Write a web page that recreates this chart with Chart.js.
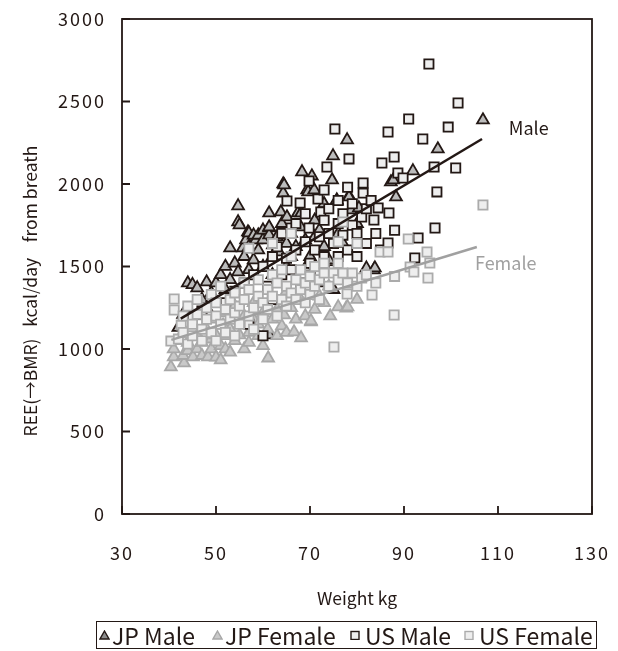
<!DOCTYPE html>
<html>
<head>
<meta charset="utf-8">
<script src="https://cdn.jsdelivr.net/npm/chart.js@4"></script>
<style>
    body { margin: 0; background: #fff; }
    #wrap { position: relative; width: 618px; height: 651px; }
    #legenda {
        position: absolute; left: 96px; top: 621px; width: 501px; height: 28px;
        box-sizing: border-box; border: 1.5px solid #231815;
        font: 23px "Noto Sans CJK JP", "Noto Sans", sans-serif; color: #231815;
    }
    #legenda span { position: absolute; top: 0; height: 25px; display: flex; align-items: center; white-space: nowrap; }
    #legenda svg { margin-right: 2px; }
</style>
</head>
<body>
<div id="wrap">
    <canvas id="grafico" width="618" height="651"></canvas>
    <div id="legenda">
        <span style="left:2px"><svg width="11" height="10"><polygon points="5.5,1 10,9 1,9" fill="#8c8c8c" stroke="#231815" stroke-width="1.4"/></svg>JP Male</span>
        <span style="left:115px"><svg width="11" height="10"><polygon points="5.5,1 10,9 1,9" fill="#c9c9c9" stroke="#a8a8a8" stroke-width="1.4"/></svg>JP Female</span>
        <span style="left:252px"><svg width="14" height="10"><rect x="2" y="1.5" width="8" height="8" fill="#eeeeee" stroke="#231815" stroke-width="1.4"/></svg> US Male</span>
        <span style="left:366px"><svg width="14" height="10"><rect x="2" y="1.5" width="8" height="8" fill="#eeeeee" stroke="#ababab" stroke-width="1.4"/></svg> US Female</span>
    </div>
</div>
<script>
// pontos [peso kg, kcal/dia]
const jpMale = [[42,1130],[43,1210],[44,1400],[45,1390],[46,1370],[47,1300],[48,1406],[48,1250],[49,1340],[50,1400],
    [50,1280],[51,1450],[52,1500],[52,1360],[53,1612],[53,1420],[54.7,1867],[54.7,1770],[54,1520],[55,1752],
    [55.7,1612],[54.7,1467],[56.8,1709],[56.4,1661],[56,1560],[57,1703],[57,1620],[57,1480],[58.5,1661],[58,1690],
    [58,1540],[59,1600],[59,1690],[60,1661],[60,1720],[60,1500],[61.3,1733],[61.3,1691],[61.3,1824],[61.3,1739],
    [61.3,1085],[62.1,1630],[62,1560],[62,1450],[63.4,1588],[63.8,1830],[63,1680],[64.3,2000],[64.3,1945],[64.5,1994],
    [64,1760],[65.1,1800],[65,1640],[65,1500],[66,1700],[66,1560],[67.4,1824],[67,1620],[68.3,2073],[68.1,1824],
    [68,1740],[69.4,1964],[69,1660],[69,1490],[70.4,2048],[69.6,1952],[70.9,1964],[70,1560],[71,1780],[71,1680],
    [72,1720],[72,1400],[73,1880],[73,1620],[74.7,2024],[74,1540],[74.9,2170],[75.7,1897],[75.7,1903],[75,1360],
    [76,1700],[77,1640],[77.9,2267],[78.3,1927],[78.3,1921],[78.7,1842],[80.4,1855],[80,1760],[82,1490],[83.6,1479],
    [83.8,1491],[87.2,2012],[87.7,2024],[88.3,1921],[91.9,2079],[97.2,2212],[106.8,2388]];

const jpFemale = [[40.4,891],[41,952],[41,1000],[43.2,915],[42,1050],[43,960],[43,1100],[44,990],[44,1040],[45.1,952],
    [45,1150],[46,1000],[46,1080],[47,960],[47,1200],[47,1040],[48.3,952],[48,1120],[49,1000],[49,1060],
    [50,1085],[50,950],[50,1180],[51,933],[51.5,1145],[51,1020],[52,1000],[52,1220],[52,1080],[53,1120],
    [53,980],[54,1050],[54,1260],[55,1085],[55,1150],[56,1000],[56,1200],[57,1100],[57,1040],[58,1180],
    [58,1280],[59,1080],[59,1150],[60,1220],[60,1020],[61.1,945],[61,1120],[62,1300],[62,1180],[63,1080],
    [63,1240],[64,1140],[64.5,1206],[65,1350],[65,1100],[66.6,1103],[66,1250],[67,1180],[68.1,1067],[68,1300],
    [69,1200],[70.2,1164],[70.2,1170],[71,1240],[72,1320],[73,1280],[74.3,1200],[74,1380],[76,1255],[77.7,1248],
    [78,1255],[80,1300]];

const usMale = [[45,1200],[47,1212],[47,1230],[52,1280],[54,1350],[56,1400],[57,1150],[58,1450],[60,1080],[60,1500],
    [61,1380],[62,1560],[62,1300],[63,1620],[64,1450],[64,1700],[65.1,1897],[65,1550],[66,1733],[66,1480],
    [67,1600],[67,1760],[67.9,1885],[68,1400],[69,1650],[69,1820],[69.8,2018],[69.8,1733],[70,1520],[71.7,1909],
    [71,1600],[72.3,1830],[72,1680],[72,1450],[73,1964],[73,1780],[73,1560],[73.6,2103],[74,1850],[74,1700],
    [75.3,2333],[75,1640],[75,1480],[76,1900],[76,1760],[76,1560],[77,1820],[77,1690],[78.3,2152],[78,1980],
    [78,1600],[79,1750],[79,1880],[80,1700],[80,1560],[81.3,2006],[81.3,1945],[81,1800],[82,1850],[82,1640],
    [83.6,1782],[83,1900],[84.5,1855],[84,1700],[85.3,2127],[85,1600],[86.6,2315],[86.6,1642],[86.8,1824],[87.9,2164],
    [88,1720],[88.7,2067],[89.8,2036],[91,2394],[92.3,1552],[93,1673],[94,2273],[95.3,2727],[96.4,2103],[97,1952],
    [96.6,1733],[99.4,2345],[101,2097],[101.5,2491]];

const usFemale = [[40.4,1048],[41.1,1303],[41.1,1236],[42.6,1145],[42,1060],[43,1200],[43,1100],[44,1030],[44,1260],[45,1150],
    [45,1080],[46,1210],[46,1300],[47,1120],[47,1050],[48,1250],[48,1180],[49,1330],[49,1100],[50,1200],
    [50,1280],[50,1050],[51,1150],[51,1380],[52,1240],[52,1100],[53,1300],[53,1180],[54,1340],[54,1220],
    [54,1080],[55,1260],[55,1150],[56,1400],[56,1300],[57,1200],[57,1360],[57,1610],[58,1250],[58,1120],
    [59,1320],[59,1420],[60,1180],[60,1280],[61,1360],[61,1240],[62,1450],[62,1320],[62,1640],[63,1200],
    [63,1400],[64,1300],[64,1480],[65,1260],[65,1380],[66,1340],[66,1560],[66,1700],[67,1300],[67,1420],
    [68,1360],[68,1480],[69,1280],[69,1400],[70,1440],[70,1330],[71,1500],[71,1380],[72,1420],[72,1300],
    [73,1460],[73,1520],[74,1380],[75.1,1012],[75,1460],[76,1420],[76,1520],[76,1650],[77,1770],[77.9,1333],
    [77,1460],[78,1400],[79,1460],[80,1380],[80,1640],[81,1430],[82,1450],[83.2,1327],[84,1400],[84.9,1588],
    [86.6,1588],[87.9,1206],[88,1440],[90.9,1667],[91.3,1497],[92.1,1467],[94.9,1588],[95.5,1521],[95.1,1430],[106.8,1873]];

// retas de regressão
const linhaMale = [[42.5,1184],[106.6,2273]];
const linhaFemale = [[40.5,1055],[105.5,1618]];

const ticksX = [30, 50, 70, 90, 110, 130];
const ticksY = [0, 500, 1000, 1500, 2000, 2500, 3000];

const escuro = '#231815';
const fonte = '"Noto Sans CJK JP", "Noto Sans", sans-serif';

function pontos(lista) {
    return lista.map(p => ({ x: p[0], y: p[1] }));
}

const moldura = {
    id: 'moldura',
    beforeDraw(chart) {
        chart.ctx.letterSpacing = '2px';
    },
    afterDraw(chart) {
        const ctx = chart.ctx;
        const area = chart.chartArea;
        const sx = chart.scales.x;
        const sy = chart.scales.y;
        ctx.save();
        ctx.letterSpacing = '0px';
        ctx.strokeStyle = escuro;
        ctx.lineWidth = 1.8;
        ctx.strokeRect(area.left, area.top, area.right - area.left, area.bottom - area.top);
        ctx.beginPath();
        ticksY.forEach(v => {
            const y = sy.getPixelForValue(v);
            ctx.moveTo(area.left, y);
            ctx.lineTo(area.left + 8, y);
        });
        ticksX.forEach(v => {
            const x = sx.getPixelForValue(v);
            ctx.moveTo(x, area.bottom);
            ctx.lineTo(x, area.bottom - 8);
        });
        ctx.stroke();

        ctx.fillStyle = escuro;
        ctx.font = '17.5px ' + fonte;
        ctx.textAlign = 'center';
        ctx.textBaseline = 'middle';
        ctx.fillText('Weight kg', 357, 598);
        ctx.translate(30, 291);
        ctx.rotate(-Math.PI / 2);
        ctx.fillText('REE(→BMR)   kcal/day    from breath', 0, 0);
        ctx.restore();

        ctx.save();
        ctx.letterSpacing = '0px';
        ctx.font = '18px ' + fonte;
        ctx.textBaseline = 'middle';
        ctx.fillStyle = escuro;
        ctx.fillText('Male', sx.getPixelForValue(112.3), sy.getPixelForValue(2339));
        ctx.fillStyle = '#a0a0a0';
        ctx.fillText('Female', sx.getPixelForValue(105.1), sy.getPixelForValue(1521));
        ctx.restore();
    }
};

new Chart(document.getElementById('grafico'), {
    type: 'scatter',
    data: {
        datasets: [
            {
                label: 'Male line', data: pontos(linhaMale), showLine: true, pointRadius: 0,
                borderColor: escuro, borderWidth: 2.5, order: 0
            },
            {
                label: 'Female line', data: pontos(linhaFemale), showLine: true, pointRadius: 0,
                borderColor: '#a0a0a0', borderWidth: 2.5, order: 0
            },
            {
                label: 'US Female', data: pontos(usFemale), pointStyle: 'rect', pointRadius: 6.5,
                backgroundColor: '#eeeeee', borderColor: '#ababab', borderWidth: 1.8, order: 1
            },
            {
                label: 'US Male', data: pontos(usMale), pointStyle: 'rect', pointRadius: 6.5,
                backgroundColor: '#eeeeee', borderColor: escuro, borderWidth: 1.8, order: 2
            },
            {
                label: 'JP Female', data: pontos(jpFemale), pointStyle: 'triangle', pointRadius: 6.8,
                backgroundColor: '#c9c9c9', borderColor: '#a8a8a8', borderWidth: 1.8, order: 3
            },
            {
                label: 'JP Male', data: pontos(jpMale), pointStyle: 'triangle', pointRadius: 6.8,
                backgroundColor: '#bcbcbc', borderColor: escuro, borderWidth: 1.8, order: 4
            }
        ]
    },
    options: {
        responsive: false,
        animation: false,
        layout: { padding: { left: 0, right: 26, top: 19, bottom: 0 } },
        plugins: {
            legend: { display: false },
            tooltip: { enabled: false }
        },
        scales: {
            x: {
                type: 'linear', min: 30, max: 130,
                afterFit: s => { s.height = 137; s.paddingRight = 0; s.paddingLeft = 0; },
                afterBuildTicks: s => { s.ticks = ticksX.map(v => ({ value: v })); },
                grid: { display: false },
                border: { display: false },
                ticks: { color: escuro, padding: 20, font: { family: fonte, size: 18 }, callback: v => String(v) }
            },
            y: {
                type: 'linear', min: 0, max: 3000,
                afterFit: s => { s.width = 122; s.paddingTop = 0; s.paddingBottom = 0; },
                afterBuildTicks: s => { s.ticks = ticksY.map(v => ({ value: v })); },
                grid: { display: false },
                border: { display: false },
                ticks: { color: escuro, padding: 8, font: { family: fonte, size: 18 }, callback: v => String(v) }
            }
        }
    },
    plugins: [moldura]
});
</script>
</body>
</html>
